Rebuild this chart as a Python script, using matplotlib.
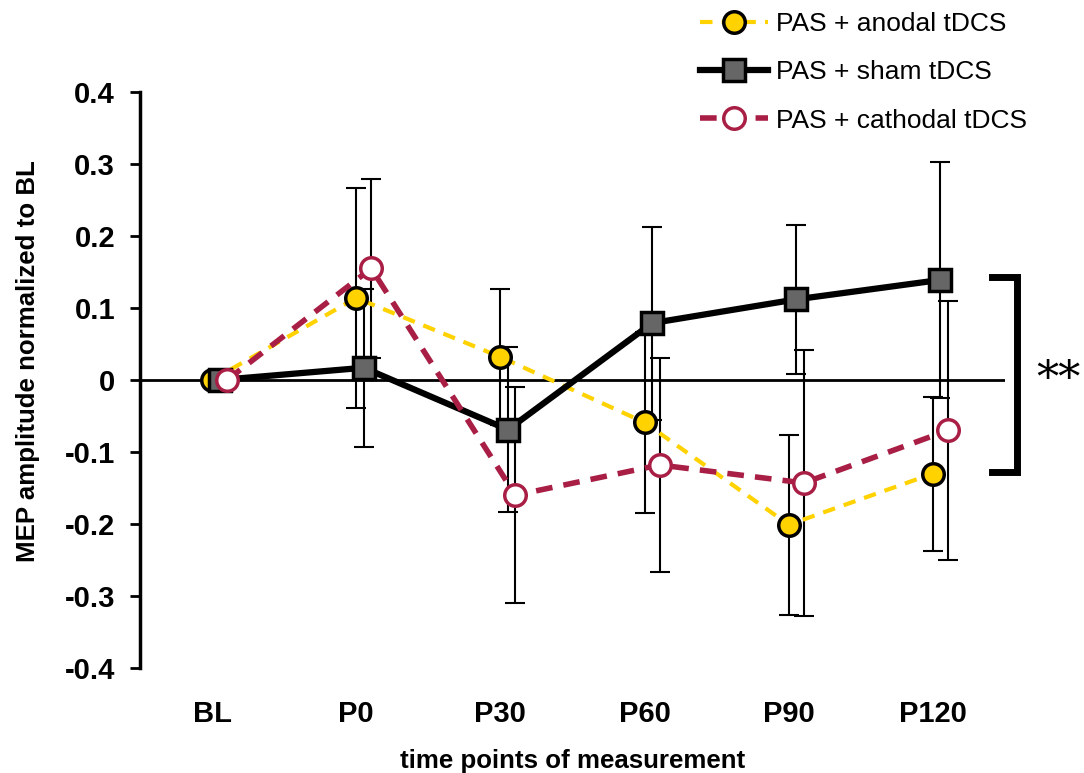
import matplotlib
matplotlib.use("Agg")
import matplotlib.pyplot as plt
import numpy as np

categories = ["BL", "P0", "P30", "P60", "P90", "P120"]
anodal = [0.0, 0.114, 0.032, -0.059, -0.201, -0.130]
anodal_err = [0.0, 0.153, 0.094, 0.126, 0.125, 0.107]
sham = [0.0, 0.017, -0.069, 0.079, 0.112, 0.139]
sham_err = [0.0, 0.110, 0.115, 0.134, 0.103, 0.164]
cathodal = [0.0, 0.155, -0.160, -0.118, -0.143, -0.070]
cathodal_err = [0.0, 0.124, 0.150, 0.149, 0.185, 0.180]
labels = ["PAS + anodal tDCS", "PAS + sham tDCS", "PAS + cathodal tDCS"]

plt.rcParams['font.family'] = ['Liberation Sans', 'DejaVu Sans']

YEL = "#FFD200"
RED = "#A91E45"

fig = plt.figure(figsize=(10.84, 7.73), dpi=100)
ax = fig.add_axes([140/1084, 1-668/773, (1005-140)/1084, (668-92)/773])

x = np.arange(len(categories))
off = 0.052

ax.axhline(0, color="black", lw=2, zorder=1)

ax.errorbar(x[1:], anodal[1:], yerr=anodal_err[1:], fmt="none", ecolor="black",
            elinewidth=1.5, capsize=7, capthick=1.5, zorder=3)
ax.errorbar(x[1:] + off, sham[1:], yerr=sham_err[1:], fmt="none", ecolor="black",
            elinewidth=1.5, capsize=7, capthick=1.5, zorder=3)
ax.errorbar(x[1:] + 2*off, cathodal[1:], yerr=cathodal_err[1:], fmt="none", ecolor="black",
            elinewidth=1.5, capsize=7, capthick=1.5, zorder=3)

l1, = ax.plot(x, anodal, ls=(0, (3, 2.2)), color=YEL, lw=3, marker="o", ms=15.5,
              mfc=YEL, mec="black", mew=2.5, zorder=4, label=labels[0])
l2, = ax.plot(x + off, sham, ls="-", color="black", lw=4.5, marker="s", ms=15.5,
              mfc="#666666", mec="black", mew=2.5, zorder=5, label=labels[1])
l3, = ax.plot(x + 2*off, cathodal, ls=(0, (3, 2)), color=RED, lw=4, marker="o", ms=15.5,
              mfc="white", mec=RED, mew=2.5, zorder=6, label=labels[2])

ax.set_xlim(-0.5, 5.5)
ax.set_ylim(-0.4, 0.4)
ax.set_xticks(x)
ax.set_xticklabels(categories, fontsize=21, fontweight="bold")
ax.set_yticks([-0.4, -0.3, -0.2, -0.1, 0, 0.1, 0.2, 0.3, 0.4])
ax.set_yticklabels(["-0.4", "-0.3", "-0.2", "-0.1", "0", "0.1", "0.2", "0.3", "0.4"],
                   fontsize=21, fontweight="bold")
ax.tick_params(axis="x", length=0, pad=23)
ax.tick_params(axis="y", length=7, width=2, pad=11)
for s in ["top", "right", "bottom"]:
    ax.spines[s].set_visible(False)
ax.spines["left"].set_linewidth(2.5)

ax.set_ylabel("MEP amplitude normalized to BL", fontsize=18.6, fontweight="bold")
ax.yaxis.set_label_coords(-0.116, 0.533)
ax.set_xlabel("time points of measurement", fontsize=18.6, fontweight="bold", labelpad=15)

bx0, bx1 = 5.41, 5.58
ax.plot([bx0, bx1, bx1, bx0], [0.143, 0.143, -0.128, -0.128], color="black", lw=5,
        clip_on=False, solid_joinstyle="miter", zorder=7)
ax.text(5.87, 0.0, "**", fontsize=32, ha="center", va="center", family="DejaVu Serif",
        clip_on=False)

leg = fig.legend(handles=[l1, l2, l3], loc="upper right", bbox_to_anchor=(1043/1084, 1.005),
                 frameon=False, fontsize=19, handlelength=2.6, handletextpad=0.3,
                 labelspacing=0.92, borderaxespad=0.2)

fig.savefig("out.png", dpi=100)
